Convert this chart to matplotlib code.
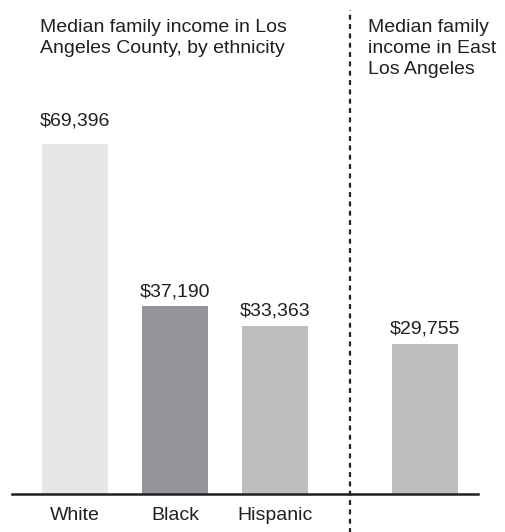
import matplotlib.pyplot as plt

plt.rcParams['font.family'] = ['Liberation Sans', 'DejaVu Sans']

# median family income, county by ethnicity and East LA
county_groups = ['White', 'Black', 'Hispanic']
county_income = [69396, 37190, 33363]
county_colors = ['#e6e7e8', '#939598', '#bcbec0']
east_la_income = 29755
east_la_color = '#bcbec0'

county_title = 'Median family income in Los\nAngeles County, by ethnicity'
east_la_title = 'Median family\nincome in East\nLos Angeles'

W, H = 506, 532
fig = plt.figure(figsize=(W / 100, H / 100), dpi=100)
fs = 14
ink = '#231f20'

# axes spans from the baseline up to the top of the figure
base_px = 494
ax = fig.add_axes([12 / W, 1 - base_px / H, (478 - 12) / W, base_px / H])
ax.set_xlim((12 - 75) / 100, (478 - 75) / 100)
ymax = county_income[0] * base_px / 350
ax.set_ylim(0, ymax)
ax.axis('off')

xs = list(range(len(county_groups)))
east_x = 3.5
bar_w = 0.66

ax.bar(xs, county_income, width=bar_w, color=county_colors)
ax.bar([east_x], [east_la_income], width=bar_w, color=east_la_color)

# value labels; the tallest one sits a bit higher above its bar
label_pad = [10.5, 4.5, 4.5, 4.5]
for x, v, pad in zip(xs + [east_x], county_income + [east_la_income], label_pad):
    ax.annotate(f'${v:,}', (x, v), xytext=(0, pad), textcoords='offset points',
                ha='center', va='bottom', fontsize=fs, color=ink)

px = ymax / base_px
for x, name in zip(xs, county_groups):
    ax.text(x, -26 * px, name, ha='center', va='baseline',
            fontsize=fs, color=ink, clip_on=False)

# baseline
ax.axhline(0, color=ink, lw=1.8, clip_on=False)

# dotted divider between the two panels
div_x = (xs[-1] + east_x) / 2
ax.plot([div_x, div_x], [-40 * px, 484 * px],
        color=ink, lw=1.6, ls=(0, (2.2, 2.0)), clip_on=False)

fig.text(40 / W, 1 - 19 / H, county_title, ha='left', va='top',
         fontsize=fs, color=ink, linespacing=1.3)
fig.text(368 / W, 1 - 19 / H, east_la_title, ha='left', va='top',
         fontsize=fs, color=ink, linespacing=1.3)

fig.savefig('out.png', dpi=100)
